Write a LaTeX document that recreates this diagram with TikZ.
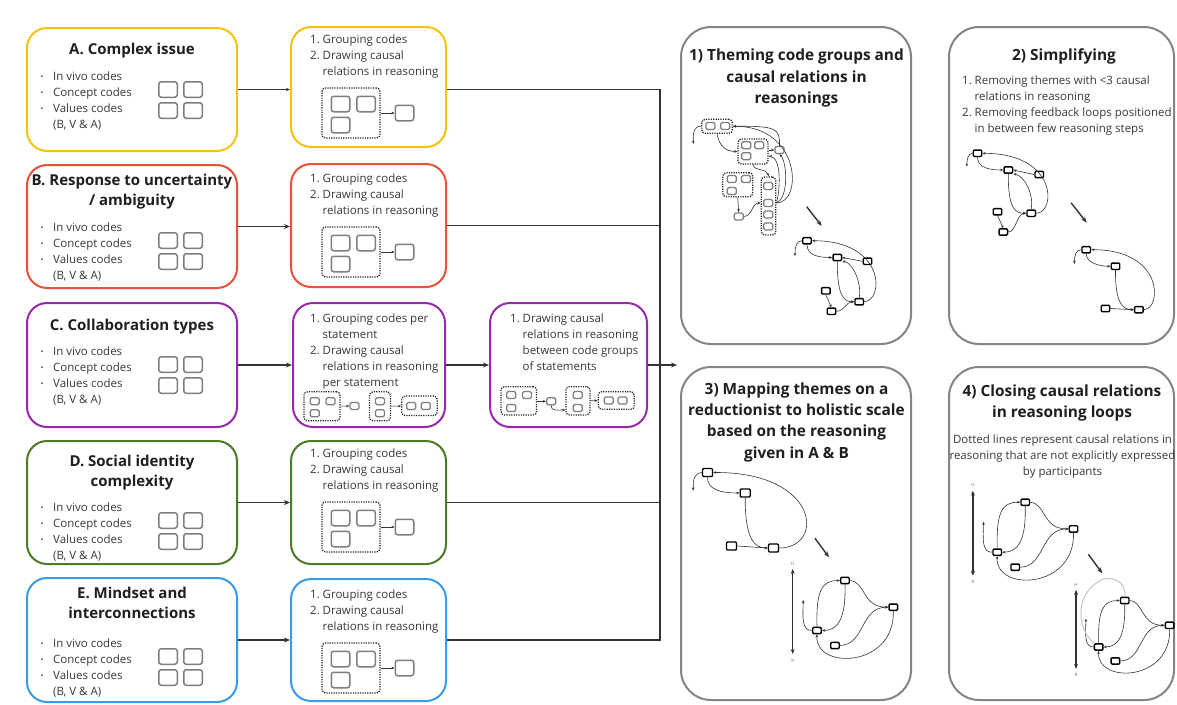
\documentclass[tikz,border=0pt]{standalone}
\usepackage{fontspec}
\setmainfont{Open Sans}
\usetikzlibrary{arrows.meta}

\definecolor{cA}{HTML}{F4C20F}
\definecolor{cB}{HTML}{E8523A}
\definecolor{cC}{HTML}{9A28AE}
\definecolor{cD}{HTML}{4D7A27}
\definecolor{cE}{HTML}{3C9BE8}
\definecolor{pan}{HTML}{858585}
\definecolor{ink}{HTML}{333333}
\definecolor{txt}{HTML}{383838}
\definecolor{ico}{HTML}{7E7E7E}
\definecolor{lgray}{HTML}{C4C4C4}

% invisible strut fixing the first baseline below a node's top edge
\newcommand\tp[1]{\rule{0pt}{#1pt}}
\newcommand\bl{\makebox[13pt][l]{\hspace{0.5pt}\raisebox{1pt}{\fontsize{7.5}{7.5}\selectfont\textbullet}}}
\newcommand\cont{\hspace*{13pt}}
\newcommand\nb[1]{\makebox[12.5pt][l]{#1}}
\newcommand\ind{\hspace*{12.5pt}}

\tikzset{
  cbox/.style={draw=#1, line width=2pt, rounded corners=20pt, minimum width=210pt, inner sep=0},
  sbox/.style={draw=#1, line width=2pt, rounded corners=20pt, inner sep=0},
  panel/.style={draw=pan, line width=2pt, rounded corners=30pt, inner sep=0},
  ttl/.style={font=\bfseries\fontsize{15}{20.5}\selectfont, text=black!88, align=center, anchor=north, inner sep=0},
  ptl/.style={font=\bfseries\fontsize{15.4}{21.3}\selectfont, text=black!88, align=center, anchor=north, inner sep=0},
  body/.style={font=\fontsize{11.5}{16}\selectfont, text=txt, align=left, anchor=north west, inner sep=0},
  isq/.style={draw=ico, line width=1.5pt, rounded corners=2.5pt, minimum width=18.5pt, minimum height=15.5pt, inner sep=0},
  ssq/.style={draw=ico, line width=1.3pt, rounded corners=1.5pt, minimum width=9pt, minimum height=7pt, inner sep=0},
  grp/.style={draw=black!85, line width=1.3pt, dash pattern=on 1.2pt off 1.2pt, rounded corners=3.5pt, inner sep=0},
  bsq/.style={draw=black, fill=white, line width=1.4pt, rounded corners=1pt, minimum width=8.5pt, minimum height=6.3pt, inner sep=0},
  bsqL/.style={bsq, minimum width=10pt, minimum height=8pt},
  flow/.style={draw=ink, line width=1.6pt, -{Stealth[length=6pt,width=5pt]}},
  flowthin/.style={draw=ink, line width=0.8pt, -{Stealth[length=4pt,width=3.2pt]}},
  bus/.style={draw=ink, line width=1.6pt},
  lnk/.style={draw=ink, line width=0.6pt, -{Stealth[length=3.2pt,width=2.6pt]}},
  stepto/.style={draw=ink, line width=1.4pt, -{Stealth[length=6pt,width=4.5pt]}},
  scalebar/.style={draw=ink, line width=1.3pt, {Stealth[length=5pt,width=4pt]}-{Stealth[length=5pt,width=4pt]}},
  hrlabel/.style={font=\fontsize{4.5}{5}\selectfont, text=black!55, inner sep=0},
  % 2 x 2 block of code squares
  quad/.pic={
    \node[isq] (-a) at (10,8.5) {};
    \node[isq] (-b) at (35,8.5) {};
    \node[isq] (-c) at (10,29.5) {};
    \node[isq] (-d) at (35,29.5) {};
  },
  % dotted code group feeding a single square
  grpicon/.pic={
    \node[grp, minimum width=58pt, minimum height=50pt] (-g) at (29,25) {};
    \node[isq] (-a) at (18.5,16) {};
    \node[isq] (-b) at (44,16) {};
    \node[isq] (-c) at (18.5,37) {};
    \node[isq] (-o) at (82.5,25) {};
    \draw[lnk] (-g) -- (-o);
  },
  % reasoning loop with reductionist/holistic scale
  loopnet/.pic={
    \node[bsq] (-q1) at (0,0) {};
    \node[bsq] (-q2) at (48.3,26.7) {};
    \node[bsq] (-q3) at (-28,50) {};
    \node[bsq] (-q4) at (-10,65) {};
    \coordinate (-e) at (-41.7,19.5);
    \coordinate (-hi) at (-52.3,-11.5);
    \coordinate (-lo) at (-52.3,73.5);
    \draw[scalebar] (-hi) -- (-lo);
    \node[hrlabel] (-hl) at (-52.3,-17) {H};
    \node[hrlabel] (-rl) at (-52.3,80) {R};
    \draw[lnk] (-q3.west) .. controls (-44,50.5) and (-42,34.5) .. (-e);
    \draw[lnk] (-q3.north) .. controls (-29,9.5) and (-23,0) .. (-q1.west);
    \draw[lnk] (-q1.south) .. controls (1,37.5) and (-7,50) .. (-q3.east);
    \draw[lnk] (-q1.east) .. controls (21,1.5) and (17,26.7) .. (-q2.west);
    \draw[lnk] (-q4.east) .. controls (20,64.5) and (15,26.7) .. (-q2.west);
    \draw[lnk] (-q2.south) .. controls (50,87.5) and (-30,89.5) .. (-q3.south);
  }
}

\begin{document}
\begin{tikzpicture}[x=1pt,y=-1pt]
\useasboundingbox (0,0) rectangle (1177,704);
\fill[white] (0,0) rectangle (1177,704);

% ---------- coding categories ----------
\node[cbox=cA, minimum height=123pt] (A) at (132,89.5) {};
\node[cbox=cB, minimum height=123pt] (B) at (132,226.5) {};
\node[cbox=cC, minimum height=124pt] (C) at (132,365) {};
\node[cbox=cD, minimum height=123pt] (D) at (132,502.5) {};
\node[cbox=cE, minimum height=124pt] (E) at (132,640) {};

\node[ttl] (At) at (132,39) {\tp{15}A. Complex issue};
\node[ttl] (Bt) at (132,170) {\tp{15}B. Response to uncertainty\\/ ambiguity};
\node[ttl] (Ct) at (132,315) {\tp{15}C. Collaboration types};
\node[ttl] (Dt) at (132,451) {\tp{15}D. Social identity\\complexity};
\node[ttl] (Et) at (132,583) {\tp{15}E. Mindset and\\interconnections};

\node[body] (Al) at (40,68) {\tp{12}\bl In vivo codes\\\bl Concept codes\\\bl Values codes\\\cont(B, V \& A)};
\node[body] (Bl) at (40,219) {\tp{12}\bl In vivo codes\\\bl Concept codes\\\bl Values codes\\\cont(B, V \& A)};
\node[body] (Cl) at (40,343) {\tp{12}\bl In vivo codes\\\bl Concept codes\\\bl Values codes\\\cont(B, V \& A)};
\node[body] (Dl) at (40,499) {\tp{12}\bl In vivo codes\\\bl Concept codes\\\bl Values codes\\\cont(B, V \& A)};
\node[body] (El) at (40,635) {\tp{12}\bl In vivo codes\\\bl Concept codes\\\bl Values codes\\\cont(B, V \& A)};

\pic (qA) at (158,81) {quad};
\pic (qB) at (158,232) {quad};
\pic (qC) at (158,356) {quad};
\pic (qD) at (158,512) {quad};
\pic (qE) at (158,648) {quad};

% ---------- grouping step ----------
\node[sbox=cA, minimum width=155pt, minimum height=120pt] (A2) at (368.5,87) {};
\node[sbox=cB, minimum width=155pt, minimum height=123pt] (B2) at (368.5,225.5) {};
\node[sbox=cC, minimum width=152pt, minimum height=124pt] (C2) at (369,365) {};
\node[sbox=cC, minimum width=157pt, minimum height=124pt] (C3) at (568.5,365) {};
\node[sbox=cD, minimum width=155pt, minimum height=123pt] (D2) at (368.5,502.5) {};
\node[sbox=cE, minimum width=155pt, minimum height=122pt] (E2) at (368.5,640) {};

\node[body] (A2t) at (310,31) {\tp{12}\nb{1.}Grouping codes\\\nb{2.}Drawing causal\\\ind relations in reasoning};
\node[body] (B2t) at (310,170) {\tp{12}\nb{1.}Grouping codes\\\nb{2.}Drawing causal\\\ind relations in reasoning};
\node[body] (C2t) at (310,310) {\tp{12}\nb{1.}Grouping codes per\\\ind statement\\\nb{2.}Drawing causal\\\ind relations in reasoning\\\ind per statement};
\node[body] (C3t) at (510,310) {\tp{12}\nb{1.}Drawing causal\\\ind relations in reasoning\\\ind between code groups\\\ind of statements};
\node[body] (D2t) at (310,445) {\tp{12}\nb{1.}Grouping codes\\\nb{2.}Drawing causal\\\ind relations in reasoning};
\node[body] (E2t) at (310,586) {\tp{12}\nb{1.}Grouping codes\\\nb{2.}Drawing causal\\\ind relations in reasoning};

\pic (gA) at (322,88) {grpicon};
\pic (gB) at (322,227) {grpicon};
\pic (gD) at (322,502) {grpicon};
\pic (gE) at (322,643) {grpicon};

% per-statement groups
\node[grp, minimum width=36pt, minimum height=29pt] (c2g1) at (322,406.3) {};
\node[ssq] (c2a) at (314.7,401.2) {};
\node[ssq] (c2b) at (330.5,401.2) {};
\node[ssq] (c2c) at (314.7,413.3) {};
\node[ssq] (c2s) at (354.5,406) {};
\node[grp, minimum width=21pt, minimum height=29pt] (c2g2) at (380,406.3) {};
\node[ssq] (c2d) at (380,401.2) {};
\node[ssq] (c2e) at (380,413.3) {};
\node[grp, minimum width=35.5pt, minimum height=19.5pt] (c2g3) at (419.5,405.8) {};
\node[ssq] (c2f) at (411.3,406) {};
\node[ssq] (c2h) at (425.8,406) {};
\draw[lnk] (c2g1) -- (c2s);
\draw[lnk] (c2g2) -- (c2g3);

% groups between statements
\node[grp, minimum width=35.5pt, minimum height=28.3pt] (c3g1) at (518.8,400.8) {};
\node[ssq] (c3a) at (511.3,395) {};
\node[ssq] (c3b) at (527,395) {};
\node[ssq] (c3c) at (511.3,408) {};
\node[ssq] (c3s) at (551.2,401.3) {};
\node[grp, minimum width=24pt, minimum height=28.3pt] (c3g2) at (578,400.8) {};
\node[ssq] (c3d) at (577.8,395) {};
\node[ssq] (c3e) at (577.8,408) {};
\node[grp, minimum width=36pt, minimum height=17.6pt] (c3g3) at (616.3,400.5) {};
\node[ssq] (c3f) at (608.7,400.5) {};
\node[ssq] (c3h) at (622.5,400.5) {};
\draw[lnk] (c3g1.east |- c3s) -- (c3s.west);
\draw[lnk] (c3s.south) .. controls (551,411) and (556,410) .. (c3g2.west |- 0,410);
\draw[lnk] (c3g2) -- (c3g3);

% ---------- flows ----------
\draw[flowthin] (A.east) -- (A.east -| A2.west);
\draw[flow] (B.east) -- (B.east -| B2.west);
\draw[flow] (C.east) -- (C.east -| C2.west);
\draw[flow] (D.east) -- (D.east -| D2.west);
\draw[flow] (E.east) -- (E.east -| E2.west);
\draw[flow] (C2.east) -- (C2.east -| C3.west);

\coordinate (busx) at (660,0);
\draw[bus] (A2.east |- A.east) -| (busx |- E2.east) -- (E2.east);
\draw[bus] (B2.east) -- (B2.east -| busx);
\draw[bus] (D2.east) -- (D2.east -| busx);
\coordinate (busout) at (677,365);
\draw[flow] (C3.east) -- (busout);

% ---------- analysis panels ----------
\node[panel, minimum width=230pt, minimum height=317pt] (P1) at (796,185.5) {};
\node[panel, minimum width=225pt, minimum height=317pt] (P2) at (1061.5,185.5) {};
\node[panel, minimum width=230pt, minimum height=333pt] (P3) at (796,533.5) {};
\node[panel, minimum width=225pt, minimum height=333pt] (P4) at (1061.5,533.5) {};

\node[ptl] (P1t) at (796.5,45.5) {\tp{15}1) Theming code groups and\\causal relations in\\reasonings};
\node[ptl] (P2t) at (1064,45.5) {\tp{15}2) Simplifying};
\node[body] (P2b) at (962,72) {\tp{12}\nb{1.}Removing themes with <3 causal\\\ind relations in reasoning\\\nb{2.}Removing feedback loops positioned\\\ind in between few reasoning steps};
\node[ptl] (P3t) at (796.5,379) {\tp{15}3) Mapping themes on a\\reductionist to holistic scale\\based on the reasoning\\given in A \& B};
\node[ptl] (P4t) at (1062,381) {\tp{15}4) Closing causal relations\\in reasoning loops};
\node[body, align=center, anchor=north] (P4b) at (1062.5,431) {\tp{12}Dotted lines represent causal relations in\\reasoning that are not explicitly expressed\\by participants};

% panel 1: themed code groups
\node[grp, minimum width=30.5pt, minimum height=14pt] (g1) at (717,126.3) {};
\node[ssq] (g1a) at (710.5,126) {};
\node[ssq] (g1b) at (725.3,126) {};
\node[grp, minimum width=30pt, minimum height=25pt] (g2) at (753,151.5) {};
\node[ssq] (g2a) at (746.3,145.2) {};
\node[ssq] (g2b) at (759.2,145.2) {};
\node[ssq] (g2c) at (746.3,156.2) {};
\node[ssq] (s1) at (779.5,150) {};
\node[grp, minimum width=14.5pt, minimum height=58pt] (g3) at (768.5,206) {};
\node[ssq] (g3a) at (768.3,186) {};
\node[ssq] (g3b) at (768.3,203) {};
\node[ssq] (g3c) at (768.3,214.5) {};
\node[ssq] (g3d) at (768.3,226.5) {};
\node[grp, minimum width=30pt, minimum height=24pt] (g4) at (737.7,184.7) {};
\node[ssq] (g4a) at (731.7,179) {};
\node[ssq] (g4b) at (746,179) {};
\node[ssq] (g4c) at (731.7,191) {};
\node[ssq] (s2) at (738.7,216.5) {};
\coordinate (e1) at (693.3,144);
\draw[lnk] (g1.west) .. controls (694,126) and (693,132) .. (e1);
\draw[lnk] (g1.south) .. controls (719,146) and (726,151.5) .. (g2.west);
\draw[lnk] (s1.west -| g2.east) -- (s1.west);
\draw[lnk] (s1.north) .. controls (780,128) and (776,126) .. (g1.east);
\draw[lnk] (g2.south) .. controls (755,172) and (767,168) .. (g3.north);
\draw[lnk] (g4.south) -- (s2.north);
\draw[lnk] (s2.east) .. controls (752,216.5) and (752,203) .. (g3.west |- g3b);
\draw[lnk] (g3.east |- g3b) .. controls (803,203) and (801,126) .. (g1.east);
\draw[lnk] (g3.east |- g3b) .. controls (789,198) and (787,162) .. (s1.south);
\draw[lnk] (g3.east |- g3b) .. controls (780,192) and (782,158) .. (g2.east |- 0,156);
\coordinate (d1a) at (806.7,206.7);
\coordinate (d1b) at (821.7,226);
\draw[stepto] (d1a) -- (d1b);

% panel 1: themes and their relations
\node[bsq] (n1) at (807,240.7) {};
\node[bsq] (n2) at (837.3,257.5) {};
\node[bsq] (n3) at (867.5,261.3) {};
\node[bsq] (n4) at (859.2,301.7) {};
\node[bsq] (n5) at (825.8,290.8) {};
\node[bsq] (n6) at (831.5,311.3) {};
\coordinate (e2) at (795,256);
\draw[lnk] (n1.west) .. controls (796,241) and (795,247) .. (e2);
\draw[lnk] (n1.south) .. controls (807,256) and (820,257.5) .. (n2.west);
\draw[lnk] (n3.west) -- (n2.east);
\draw[lnk] (n4.east) .. controls (884,301) and (886,241) .. (n1.east);
\draw[lnk] (n2.south) .. controls (837,298) and (845,301.7) .. (n4.west);
\draw[lnk] (n4.north) .. controls (862,282) and (852,262) .. (n2.south east);
\draw[lnk] (n5.south) -- (n6.north);
\draw[lnk] (n6.east) .. controls (845,311) and (846,301.7) .. (n4.west);

% panel 2: before simplifying
\node[bsq] (m1) at (977.5,153.3) {};
\node[bsq] (m2) at (1008.3,170) {};
\node[bsq] (m3) at (1039.2,174.5) {};
\node[bsq] (m4) at (1031.2,213.3) {};
\node[bsq] (m5) at (997.5,211.7) {};
\node[bsq] (m6) at (1003.3,232) {};
\coordinate (e3) at (966.7,166.7);
\draw[lnk] (m1.west) .. controls (968,153.5) and (967,159) .. (e3);
\draw[lnk] (m1.south) .. controls (977.5,168) and (990,170) .. (m2.west);
\draw[lnk] (m3.west) -- (m2.east);
\draw[lnk] (m4.east) .. controls (1056,213) and (1058,153.5) .. (m1.east);
\draw[lnk] (m2.south) .. controls (1008,210) and (1016,213.3) .. (m4.west);
\draw[lnk] (m4.north) .. controls (1034,195) and (1025,176) .. (m2.south east);
\draw[lnk] (m5.south) -- (m6.north);
\draw[lnk] (m6.east) .. controls (1016,232) and (1017,213.3) .. (m4.west);
\coordinate (d2a) at (1071,202.7);
\coordinate (d2b) at (1086.7,222.7);
\draw[stepto] (d2a) -- (d2b);

% panel 2: simplified
\node[bsq] (l1) at (1086.2,249.7) {};
\node[bsq] (l2) at (1115.5,266.3) {};
\node[bsq] (l3) at (1138.8,309.7) {};
\node[bsq] (l4) at (1105.5,308.5) {};
\coordinate (e4) at (1074.3,264);
\draw[lnk] (l1.west) .. controls (1076,250) and (1074.5,255) .. (e4);
\draw[lnk] (l1.south) .. controls (1086,263) and (1100,266.3) .. (l2.west);
\draw[lnk] (l3.east) .. controls (1162,309) and (1164,249.7) .. (l1.east);
\draw[lnk] (l2.south) .. controls (1115,305) and (1124,309.7) .. (l3.west);
\draw[lnk] (l4.east) -- (l3.west);

% panel 3: simplified themes
\node[bsqL] (p1) at (707.5,472.5) {};
\node[bsqL] (p2) at (745.2,493) {};
\node[bsqL] (p3) at (773.5,548) {};
\node[bsqL] (p4) at (731.5,546) {};
\coordinate (e5) at (693.3,490.7);
\draw[lnk] (p1.west) .. controls (694,473) and (693,480) .. (e5);
\draw[lnk] (p1.south) .. controls (707,490) and (722,493) .. (p2.west);
\draw[lnk] (p2.south) .. controls (745,540) and (755,548) .. (p3.west);
\draw[lnk] (p3.east) .. controls (825,548) and (820,472) .. (p1.east);
\draw[lnk] (p4.east) -- (p3.west);
\coordinate (d3a) at (815,538.3);
\coordinate (d3b) at (829,557.3);
\draw[stepto] (d3a) -- (d3b);

% panels 3 and 4: themes on the scale
\pic (ln3) at (845,580.5) {loopnet};
\pic (ln4) at (1025.2,502.2) {loopnet};
\coordinate (d4a) at (1088.3,554.3);
\coordinate (d4b) at (1102.3,573.3);
\draw[stepto] (d4a) -- (d4b);
\pic[scale=0.93] (ln5) at (1124.7,600.5) {loopnet};
\draw[lgray, line width=1pt] (ln5-q3.north west) .. controls (1076,628) and (1074,590) .. (1105,578.5) .. controls (1120,578) and (1126,586) .. (ln5-q1.north);
\end{tikzpicture}
\end{document}
